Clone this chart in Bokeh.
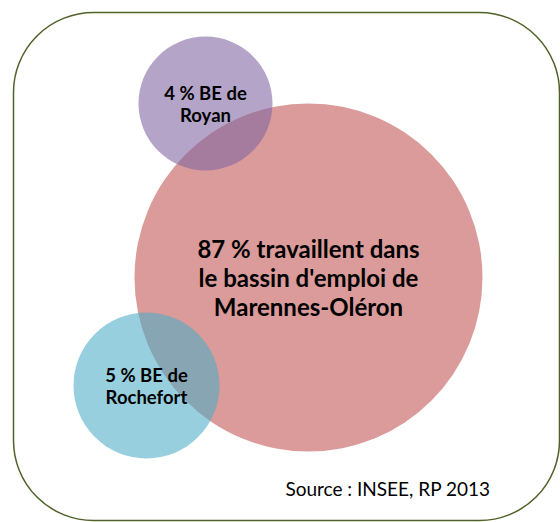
from bokeh.plotting import figure
from bokeh.models import Range1d, BoxAnnotation, ColumnDataSource, Label
from bokeh.core.properties import value
from bokeh.embed import file_html
from bokeh.resources import INLINE

# data
names = ["Marennes-Oléron", "Royan", "Rochefort"]
shares = [87, 4, 5]
labels = ["87 % travaillent dans\nle bassin d'emploi de\nMarennes-Oléron",
          "4 % BE de\nRoyan",
          "5 % BE de\nRochefort"]
cx = [308, 205, 146]
cy = [277, 103, 385]
radii = [174, 67, 73]
colors = ["#C0504D", "#8064A2", "#4BACC6"]
alphas = [0.57, 0.59, 0.58]
font_sizes = ["24px", "18.5px", "18.5px"]
source_text = "Source : INSEE, RP 2013"

W, H = 560, 522
p = figure(width=W, height=H, x_range=Range1d(0, W), y_range=Range1d(H, 0),
           output_backend="svg", toolbar_location=None, min_border=0)
p.axis.visible = False
p.grid.visible = False
p.outline_line_color = None
p.background_fill_color = "white"
p.border_fill_color = "white"

frame = BoxAnnotation(left=13, right=559, top=12, bottom=520, border_radius=80,
                      fill_alpha=0, fill_color=None, line_color="#4F6228",
                      line_alpha=1.0, line_width=1.5)
p.add_layout(frame)

src = ColumnDataSource(dict(x=cx, y=cy, r=radii, c=colors, a=alphas,
                            t=labels, fs=font_sizes))
p.circle(x="x", y="y", radius="r", fill_color="c", fill_alpha="a",
         line_color=None, source=src)
p.text(x="x", y="y", text="t", text_font=value("Lato"), text_font_style="bold",
       text_font_size="fs", text_align="center", text_baseline="middle",
       text_line_height=1.0, text_color="black", source=src)

p.add_layout(Label(x=490, y=488, text=source_text, text_font="Lato",
                   text_font_size="19px", text_align="right",
                   text_baseline="alphabetic", text_color="black"))

open("out.html", "w").write(file_html(p, INLINE))
